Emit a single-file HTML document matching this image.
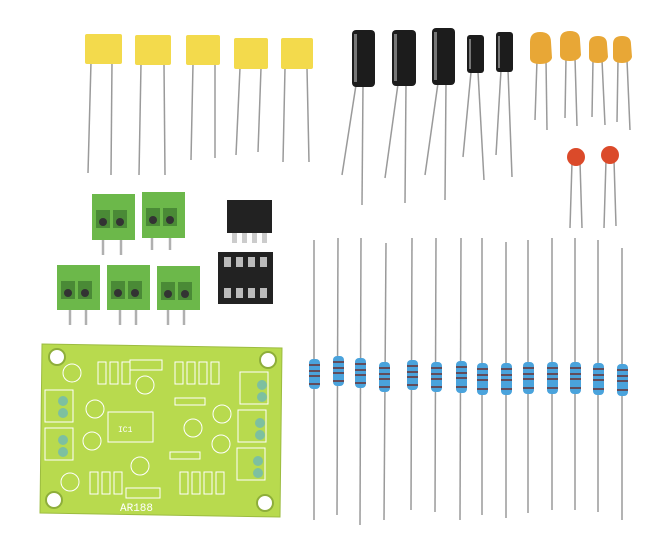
<!DOCTYPE html>
<html><head><style>
body{margin:0;background:#fff;width:670px;height:549px;overflow:hidden}
svg{display:block}
text{font-family:"Liberation Mono",monospace;fill:#fff}
</style></head><body>
<svg width="670" height="549" viewBox="0 0 670 549">
<rect width="670" height="549" fill="#fff"/>
<g stroke="#9a9a9a" stroke-width="1.5">
<line x1="91" y1="62" x2="88" y2="173"/><line x1="112" y1="62" x2="111" y2="175"/>
<line x1="141" y1="64" x2="139" y2="175"/><line x1="164" y1="64" x2="165" y2="175"/>
<line x1="193" y1="64" x2="191" y2="160"/><line x1="215" y1="64" x2="215" y2="158"/>
<line x1="240" y1="68" x2="236" y2="155"/><line x1="261" y1="68" x2="258" y2="152"/>
<line x1="285" y1="68" x2="283" y2="162"/><line x1="307" y1="68" x2="309" y2="162"/>
<line x1="356" y1="85" x2="342" y2="175"/><line x1="363" y1="85" x2="362" y2="205"/>
<line x1="398" y1="84" x2="385" y2="178"/><line x1="406" y1="84" x2="405" y2="203"/>
<line x1="438" y1="83" x2="425" y2="175"/><line x1="446" y1="83" x2="445" y2="200"/>
<line x1="471" y1="72" x2="463" y2="157"/><line x1="478" y1="72" x2="484" y2="180"/>
<line x1="501" y1="70" x2="496" y2="155"/><line x1="508" y1="70" x2="512" y2="177"/>
<line x1="537" y1="60" x2="535" y2="120"/><line x1="546" y1="60" x2="547" y2="130"/>
<line x1="566" y1="58" x2="565" y2="118"/><line x1="575" y1="58" x2="577" y2="126"/>
<line x1="593" y1="60" x2="592" y2="117"/><line x1="602" y1="60" x2="605" y2="125"/>
<line x1="618" y1="60" x2="617" y2="122"/><line x1="627" y1="60" x2="630" y2="130"/>
<line x1="572" y1="162" x2="570" y2="228"/><line x1="580" y1="162" x2="582" y2="228"/>
<line x1="606" y1="160" x2="604" y2="228"/><line x1="614" y1="160" x2="616" y2="226"/>
<line x1="314" y1="240" x2="314" y2="520"/>
<line x1="338" y1="238" x2="337" y2="515"/>
<line x1="361" y1="238" x2="360" y2="525"/>
<line x1="386" y1="243" x2="384" y2="520"/>
<line x1="412" y1="238" x2="411" y2="510"/>
<line x1="436" y1="238" x2="435" y2="512"/>
<line x1="461" y1="238" x2="460" y2="520"/>
<line x1="482" y1="238" x2="482" y2="515"/>
<line x1="506" y1="242" x2="506" y2="518"/>
<line x1="528" y1="240" x2="528" y2="513"/>
<line x1="552" y1="238" x2="552" y2="510"/>
<line x1="575" y1="238" x2="575" y2="510"/>
<line x1="598" y1="240" x2="598" y2="512"/>
<line x1="622" y1="248" x2="622" y2="520"/>
</g>
<g fill="#f3da4c">
<rect x="85" y="34" width="37" height="30" rx="2"/>
<rect x="135" y="35" width="36" height="30" rx="2"/>
<rect x="186" y="35" width="34" height="30" rx="2"/>
<rect x="234" y="38" width="34" height="31" rx="2"/>
<rect x="281" y="38" width="32" height="31" rx="2"/>
</g>
<g fill="#1c1c1c">
<rect x="352" y="30" width="23" height="57" rx="4"/>
<rect x="392" y="30" width="24" height="56" rx="4"/>
<rect x="432" y="28" width="23" height="57" rx="4"/>
<rect x="467" y="35" width="17" height="38" rx="3"/>
<rect x="496" y="32" width="17" height="40" rx="3"/>
</g>
<g fill="#777"><rect x="354" y="34" width="3" height="48"/><rect x="394" y="34" width="3" height="47"/><rect x="434" y="32" width="3" height="48"/><rect x="469" y="39" width="2" height="30"/><rect x="498" y="36" width="2" height="32"/></g>
<g fill="#e8a736">
<path d="M530,42 Q530,32 540,32 Q551,32 551,42 L552,58 Q550,64 540,64 Q530,64 530,58Z"/>
<path d="M560,40 Q560,31 570,31 Q580,31 580,40 L581,55 Q579,61 570,61 Q560,61 560,55Z"/>
<path d="M589,44 Q589,36 598,36 Q607,36 607,44 L608,57 Q606,63 598,63 Q589,63 589,57Z"/>
<path d="M613,44 Q613,36 622,36 Q631,36 631,44 L632,57 Q630,63 622,63 Q613,63 613,57Z"/>
</g>
<circle cx="576" cy="157" r="9" fill="#db4a2a"/>
<circle cx="610" cy="155" r="9" fill="#db4a2a"/>
<!-- terminal pins -->
<g stroke="#b0b0b0" stroke-width="2.5">
<line x1="103" y1="235" x2="103" y2="255"/><line x1="121" y1="235" x2="121" y2="255"/>
<line x1="152" y1="232" x2="152" y2="250"/><line x1="170" y1="232" x2="170" y2="250"/>
<line x1="70" y1="305" x2="70" y2="325"/><line x1="86" y1="305" x2="86" y2="325"/>
<line x1="120" y1="305" x2="120" y2="325"/><line x1="136" y1="305" x2="136" y2="325"/>
<line x1="168" y1="305" x2="168" y2="325"/><line x1="184" y1="305" x2="184" y2="325"/>
</g>
<g fill="#6cb84a">
<rect x="92" y="194" width="43" height="46"/>
<rect x="142" y="192" width="43" height="46"/>
<rect x="57" y="265" width="43" height="45"/>
<rect x="107" y="265" width="43" height="45"/>
<rect x="157" y="266" width="43" height="44"/>
</g>
<g fill="#4a8a36">
<rect x="96" y="210" width="14" height="18"/><rect x="113" y="210" width="14" height="18"/>
<rect x="146" y="208" width="14" height="18"/><rect x="163" y="208" width="14" height="18"/>
<rect x="61" y="281" width="14" height="18"/><rect x="78" y="281" width="14" height="18"/>
<rect x="111" y="281" width="14" height="18"/><rect x="128" y="281" width="14" height="18"/>
<rect x="161" y="282" width="14" height="18"/><rect x="178" y="282" width="14" height="18"/>
</g>
<g fill="#333">
<circle cx="103" cy="222" r="4"/><circle cx="120" cy="222" r="4"/>
<circle cx="153" cy="220" r="4"/><circle cx="170" cy="220" r="4"/>
<circle cx="68" cy="293" r="4"/><circle cx="85" cy="293" r="4"/>
<circle cx="118" cy="293" r="4"/><circle cx="135" cy="293" r="4"/>
<circle cx="168" cy="294" r="4"/><circle cx="185" cy="294" r="4"/>
</g>
<g fill="#ccc">
<rect x="232" y="232" width="5" height="11"/><rect x="242" y="232" width="5" height="11"/><rect x="252" y="232" width="5" height="11"/><rect x="262" y="232" width="5" height="11"/>
</g>
<rect x="227" y="200" width="45" height="33" fill="#222"/>
<rect x="218" y="252" width="55" height="52" fill="#222"/>
<g fill="#bbb"><rect x="224" y="257" width="7" height="10"/><rect x="236" y="257" width="7" height="10"/><rect x="248" y="257" width="7" height="10"/><rect x="260" y="257" width="7" height="10"/>
<rect x="224" y="288" width="7" height="10"/><rect x="236" y="288" width="7" height="10"/><rect x="248" y="288" width="7" height="10"/><rect x="260" y="288" width="7" height="10"/></g>
<!-- PCB -->
<polygon points="42,344 282,348 280,517 40,513" fill="#b8da4e" stroke="#9cbc40"/>
<g fill="#fff" stroke="#8eae3a" stroke-width="2">
<circle cx="57" cy="357" r="8"/><circle cx="268" cy="360" r="8"/><circle cx="54" cy="500" r="8"/><circle cx="265" cy="503" r="8"/>
</g>
<g fill="none" stroke="#fff" stroke-width="1">
<rect x="240" y="372" width="28" height="32"/><rect x="238" y="410" width="28" height="32"/><rect x="237" y="448" width="28" height="32"/>
<rect x="45" y="390" width="28" height="32"/><rect x="45" y="428" width="28" height="32"/>
<rect x="108" y="412" width="45" height="30"/>
<circle cx="72" cy="373" r="9"/><circle cx="95" cy="409" r="9"/><circle cx="92" cy="441" r="9"/><circle cx="70" cy="482" r="9"/>
<circle cx="145" cy="385" r="9"/><circle cx="140" cy="466" r="9"/><circle cx="193" cy="428" r="9"/><circle cx="222" cy="414" r="9"/><circle cx="221" cy="444" r="9"/>
<rect x="98" y="362" width="8" height="22"/><rect x="110" y="362" width="8" height="22"/><rect x="122" y="362" width="8" height="22"/>
<rect x="175" y="362" width="8" height="22"/><rect x="187" y="362" width="8" height="22"/><rect x="199" y="362" width="8" height="22"/><rect x="211" y="362" width="8" height="22"/>
<rect x="90" y="472" width="8" height="22"/><rect x="102" y="472" width="8" height="22"/><rect x="114" y="472" width="8" height="22"/>
<rect x="180" y="472" width="8" height="22"/><rect x="192" y="472" width="8" height="22"/><rect x="204" y="472" width="8" height="22"/><rect x="216" y="472" width="8" height="22"/>
<rect x="130" y="360" width="32" height="10"/><rect x="126" y="488" width="34" height="10"/><rect x="175" y="398" width="30" height="7"/><rect x="170" y="452" width="30" height="7"/>
</g>
<g fill="#7dc0a0"><circle cx="262" cy="385" r="5"/><circle cx="262" cy="397" r="5"/><circle cx="260" cy="423" r="5"/><circle cx="260" cy="435" r="5"/><circle cx="258" cy="461" r="5"/><circle cx="258" cy="473" r="5"/><circle cx="63" cy="401" r="5"/><circle cx="63" cy="413" r="5"/><circle cx="63" cy="440" r="5"/><circle cx="63" cy="452" r="5"/></g>
<text x="118" y="432" font-size="8">IC1</text>
<text x="120" y="511" font-size="11">AR188</text>
<!-- resistors -->
<g fill="#4aa3dc">
<rect x="309" y="359" width="11" height="30" rx="4"/>
<rect x="333" y="356" width="11" height="30" rx="4"/>
<rect x="355" y="358" width="11" height="30" rx="4"/>
<rect x="379" y="362" width="11" height="30" rx="4"/>
<rect x="407" y="360" width="11" height="30" rx="4"/>
<rect x="431" y="362" width="11" height="30" rx="4"/>
<rect x="456" y="361" width="11" height="32" rx="4"/>
<rect x="477" y="363" width="11" height="32" rx="4"/>
<rect x="501" y="363" width="11" height="32" rx="4"/>
<rect x="523" y="362" width="11" height="32" rx="4"/>
<rect x="547" y="362" width="11" height="32" rx="4"/>
<rect x="570" y="362" width="11" height="32" rx="4"/>
<rect x="593" y="363" width="11" height="32" rx="4"/>
<rect x="617" y="364" width="11" height="32" rx="4"/>
</g>
<g fill="#6a3030" opacity="0.75">
<rect x="309" y="364" width="11" height="2"/><rect x="309" y="370" width="11" height="2"/><rect x="309" y="375" width="11" height="2"/><rect x="309" y="383" width="11" height="2"/>
<rect x="333" y="361" width="11" height="2"/><rect x="333" y="367" width="11" height="2"/><rect x="333" y="372" width="11" height="2"/><rect x="333" y="380" width="11" height="2"/>
<rect x="355" y="363" width="11" height="2"/><rect x="355" y="369" width="11" height="2"/><rect x="355" y="374" width="11" height="2"/><rect x="355" y="382" width="11" height="2"/>
<rect x="379" y="367" width="11" height="2"/><rect x="379" y="373" width="11" height="2"/><rect x="379" y="378" width="11" height="2"/><rect x="379" y="386" width="11" height="2"/>
<rect x="407" y="365" width="11" height="2"/><rect x="407" y="371" width="11" height="2"/><rect x="407" y="376" width="11" height="2"/><rect x="407" y="384" width="11" height="2"/>
<rect x="431" y="367" width="11" height="2"/><rect x="431" y="373" width="11" height="2"/><rect x="431" y="378" width="11" height="2"/><rect x="431" y="386" width="11" height="2"/>
<rect x="456" y="366" width="11" height="2"/><rect x="456" y="372" width="11" height="2"/><rect x="456" y="377" width="11" height="2"/><rect x="456" y="386" width="11" height="2"/>
<rect x="477" y="368" width="11" height="2"/><rect x="477" y="374" width="11" height="2"/><rect x="477" y="379" width="11" height="2"/><rect x="477" y="388" width="11" height="2"/>
<rect x="501" y="368" width="11" height="2"/><rect x="501" y="374" width="11" height="2"/><rect x="501" y="379" width="11" height="2"/><rect x="501" y="388" width="11" height="2"/>
<rect x="523" y="367" width="11" height="2"/><rect x="523" y="373" width="11" height="2"/><rect x="523" y="378" width="11" height="2"/><rect x="523" y="387" width="11" height="2"/>
<rect x="547" y="367" width="11" height="2"/><rect x="547" y="373" width="11" height="2"/><rect x="547" y="378" width="11" height="2"/><rect x="547" y="387" width="11" height="2"/>
<rect x="570" y="367" width="11" height="2"/><rect x="570" y="373" width="11" height="2"/><rect x="570" y="378" width="11" height="2"/><rect x="570" y="387" width="11" height="2"/>
<rect x="593" y="368" width="11" height="2"/><rect x="593" y="374" width="11" height="2"/><rect x="593" y="379" width="11" height="2"/><rect x="593" y="388" width="11" height="2"/>
<rect x="617" y="369" width="11" height="2"/><rect x="617" y="375" width="11" height="2"/><rect x="617" y="380" width="11" height="2"/><rect x="617" y="389" width="11" height="2"/>
</g>
</svg>
</body></html>
